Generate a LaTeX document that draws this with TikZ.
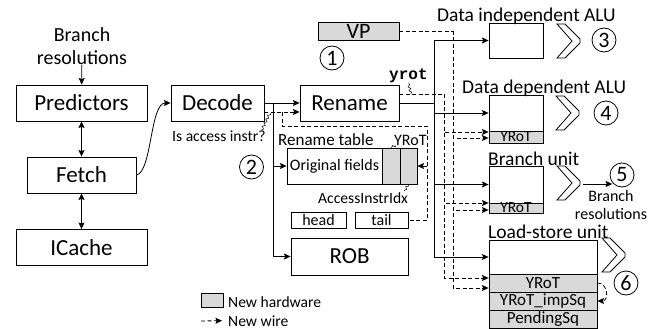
\documentclass[tikz,border=0pt]{standalone}
\usepackage{fontspec}
\setmainfont{Carlito}
\setmonofont{Liberation Mono}
\usepackage{tikz}
\usetikzlibrary{shapes,arrows,arrows.meta,positioning,decorations.pathmorphing}
\newcommand{\pxfont}[1]{\fontsize{#1}{#1}\selectfont}
% chevron marking a pipeline stage
\newcommand{\stagechevron}[2]{%
    \draw[line width=0.8pt] (#1,#2) -- ++(8,0) -- ++(15,15) -- ++(0,4)
        -- ++(-15,15) -- ++(-8,0) -- ++(15,-17) -- cycle;}
\tikzset{
    %Define standard arrow tip
    >={Stealth[length=6.5pt, width=6pt, inset=1pt]},
    %Define style for boxes
    block/.style={
           rectangle,
           draw=black,
           line width=0.9pt,
           inner sep=0pt,
           font=\pxfont{23}},
    newhw/.style={block, fill=black!15},
    % Define text styles
    txt/.style={inner sep=0pt},
    unitname/.style={txt, anchor=base west, font=\pxfont{19.5}},
    stagenum/.style={
           circle,
           draw=black,
           line width=0.8pt,
           minimum size=24pt,
           inner sep=0pt,
           font=\pxfont{22}},
    % Define arrow styles
    wire/.style={->, line width=0.8pt},
    plainwire/.style={line width=0.8pt},
    newwire/.style={->, line width=0.8pt, dash pattern=on 4pt off 2.5pt},
    plainnewwire/.style={line width=0.8pt, dash pattern=on 4pt off 2.5pt},
    squig/.style={decorate, decoration={snake, amplitude=1.2pt, segment length=4pt}, line width=0.5pt}
}
\begin{document}
\begin{tikzpicture}[x=1pt, y=-1pt]
    \useasboundingbox (0,0) rectangle (656,329);

    % front end
    \node [txt, align=center, font=\pxfont{20}] (brin) at (82,46) {Branch\\[3pt]resolutions};
    \node [block, minimum width=131pt, minimum height=36pt] (pred) at (81.5,103) {Predictors};
    \node [block, minimum width=109pt, minimum height=36pt] (fetch) at (81.5,175) {Fetch};
    \node [block, minimum width=131pt, minimum height=36pt] (icache) at (81.5,247.5) {ICache};
    \node [block, minimum width=93pt, minimum height=36pt] (decode) at (217.5,103) {Decode};
    \node [block, minimum width=99pt, minimum height=36pt] (rename) at (349.5,103) {Rename};
    \node [newhw, minimum width=81pt, minimum height=18pt, font=\pxfont{22}] (vp) at (358.5,31) {VP};

    % rename table and ROB
    \node [block, minimum width=95pt, minimum height=36pt, font=\pxfont{16}] (orig) at (334.5,166) {Original fields};
    \node [newhw, minimum width=18pt, minimum height=36pt] (col1) at (391,166) {};
    \node [newhw, minimum width=17pt, minimum height=36pt] (col2) at (408.5,166) {};
    \node [block, minimum width=55pt, minimum height=16pt, font=\pxfont{16}] (head) at (318.5,220) {head};
    \node [block, minimum width=53pt, minimum height=16pt, font=\pxfont{16}] (tail) at (381.5,220) {tail};
    \node [block, minimum width=117pt, minimum height=37pt] (rob) at (349.5,256.5) {ROB};
    \node [txt, anchor=base west, font=\pxfont{17}] (rtname) at (278,145) {Rename table};
    \node [txt, anchor=base west, font=\pxfont{16}] (yrotname) at (394,145) {YRoT};
    \node [txt, anchor=base west, font=\pxfont{15.6}] (accname) at (318,203) {AccessInstrIdx};
    \node [txt, anchor=base west, font=\pxfont{15.6}] (accq) at (172,141) {Is access instr?};
    \node [txt, anchor=base west, font=\pxfont{16}\ttfamily\bfseries] (yrotsig) at (389,80) {yrot};

    % execution units
    \node [block, minimum width=54pt, minimum height=35pt] (dialu) at (516,40.5) {};
    \node [block, minimum width=54pt, minimum height=36pt] (ddalu) at (516,113) {};
    \node [newhw, minimum width=54pt, minimum height=12pt, font=\pxfont{15.5}] (ddyrot) at (516,137) {YRoT};
    \node [block, minimum width=54pt, minimum height=37pt] (br) at (516,184.5) {};
    \node [newhw, minimum width=54pt, minimum height=10pt, font=\pxfont{15.5}] (bryrot) at (516,208) {YRoT};
    \node [block, minimum width=108pt, minimum height=34pt] (lsu) at (543,257) {};
    \node [newhw, minimum width=108pt, minimum height=18pt, font=\pxfont{17}] (yrotrow) at (543,283) {YRoT};
    \node [newhw, minimum width=108pt, minimum height=18pt, font=\pxfont{17}] (improw) at (543,301) {YRoT\_impSq};
    \node [newhw, minimum width=108pt, minimum height=18pt, font=\pxfont{17}] (pendrow) at (543,319) {PendingSq};
    \node [unitname] (dialuname) at (437,22) {Data independent ALU};
    \node [unitname] (ddaluname) at (462,93) {Data dependent ALU};
    \node [unitname] (brname) at (488,165) {Branch unit};
    \node [unitname] (lsuname) at (488,238) {Load-store unit};
    \node [txt, align=center, font=\pxfont{16}] (brout) at (611,205) {Branch\\[2pt]resolutions};

    % stages
    \stagechevron{557}{24}
    \stagechevron{556}{96}
    \stagechevron{557}{166}
    \stagechevron{602}{238}
    \node [stagenum] (s1) at (332,58) {1};
    \node [stagenum] (s2) at (251.5,167) {2};
    \node [stagenum] (s3) at (604,40) {3};
    \node [stagenum] (s4) at (606,113) {4};
    \node [stagenum] (s5) at (622,175) {5};
    \node [stagenum] (s6) at (626,283) {6};

    % legend
    \node [newhw, minimum width=22pt, minimum height=14pt] (leghw) at (212,300) {};
    \node [txt, anchor=base west, font=\pxfont{15.6}] (leghwname) at (228,307) {New hardware};
    \node [txt, anchor=base west, font=\pxfont{15.6}] (legwirename) at (228,326) {New wire};
    \coordinate (legwire) at (201,321);

    % junctions
    \coordinate (dsplit) at (273,103);
    \coordinate (asplit) at (282,112);
    \coordinate (asig) at (270,113);
    \coordinate (tblcorner) at (427,126);
    \coordinate (busR) at (434,103);
    \coordinate (yrotbus) at (444,94);
    \coordinate (yrotpt) at (411,94);
    \coordinate (vpbus) at (453,31);
    \coordinate (bradj) at (583,184);

    % front end wires
    \path[->] (brin) edge[wire] (pred);
    \path[<->] (pred) edge[wire, <->] (fetch);
    \path[<->] (fetch) edge[wire, <->] (icache);
    \draw[wire] (fetch.east) .. controls (152,172) and (150,103) .. (decode.west);
    \path[->] (decode) edge[wire] (rename);
    \draw[wire] (dsplit) |- (orig.west);
    \draw[wire] (dsplit) |- (rob.west);

    % access instruction signal
    \draw[newwire] ([yshift=-9pt]decode.east) -- ([yshift=-9pt]rename.west);
    \draw[plainnewwire] (asplit) |- (tblcorner) |- (tail.east);
    \draw[newwire] (tblcorner |- col2.east) -- (col2.east);
    \draw[squig] (asig) -- ([xshift=-4pt]accq.north east);
    \draw[squig] ([xshift=2pt]yrotname.south west) -- (col1.north);
    \draw[squig] (col2.south) -- ([xshift=-4pt, yshift=1pt]accname.north east);

    % rename to units
    \draw[plainwire] (rename.east) -- (busR);
    \draw[wire] (busR) |- (dialu.west);
    \draw[wire] (busR) |- (ddalu.west);
    \draw[wire] (busR) |- (br.west);
    \draw[wire] (busR) |- (lsu.west);

    % yrot signal
    \draw[plainnewwire] ([yshift=9pt]rename.east) -- (yrotbus);
    \draw[newwire] (yrotbus) |- ([yshift=5pt]ddyrot.west);
    \draw[newwire] (yrotbus) |- ([yshift=5pt]bryrot.west);
    \draw[newwire] (yrotbus) |- ([yshift=5pt]yrotrow.west);
    \draw[squig] (yrotsig.south) -- (yrotpt);

    % value prediction signal
    \draw[plainnewwire] (vp.east) -- (vpbus);
    \draw[newwire] (vpbus) |- ([yshift=-1pt]ddyrot.west);
    \draw[newwire] (vpbus) |- ([yshift=-2pt]bryrot.west);
    \draw[newwire] (vpbus) |- ([yshift=-5pt]yrotrow.west);

    % unit outputs
    \draw[wire] (bradj) -- ([xshift=-1pt]s5.south west |- bradj);
    \draw[newwire] (yrotrow.east) to[out=0, in=0, looseness=1.6] (improw.east);

    % legend wire
    \draw[newwire] (legwire) -- ([xshift=-6pt]legwirename.west);
\end{tikzpicture}
\end{document}
